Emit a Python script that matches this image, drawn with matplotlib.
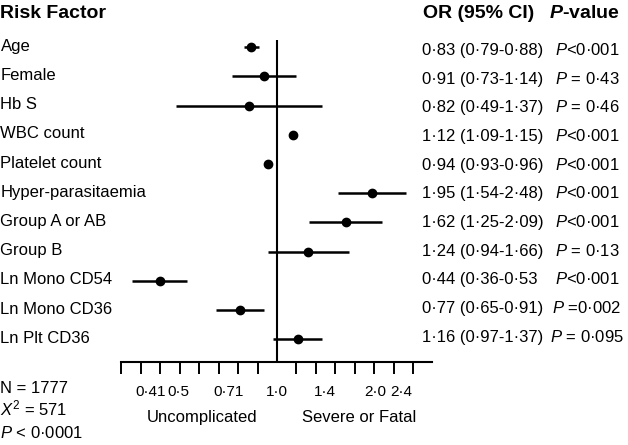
import numpy as np
import matplotlib
matplotlib.use('Agg')
import matplotlib.pyplot as plt
from matplotlib import transforms
from matplotlib.ticker import NullFormatter

plt.rcParams['font.family'] = ['Liberation Sans', 'DejaVu Sans']
plt.rcParams['mathtext.fontset'] = 'custom'
plt.rcParams['mathtext.rm'] = 'Liberation Sans'
plt.rcParams['mathtext.it'] = 'Liberation Sans:italic'
plt.rcParams['mathtext.bf'] = 'Liberation Sans:bold'
plt.rcParams['mathtext.bfit'] = 'Liberation Sans:bold:italic'

# ---------------- data ----------------
factors = ["Age", "Female", "Hb S", "WBC count", "Platelet count",
           "Hyper-parasitaemia", "Group A or AB", "Group B",
           "Ln Mono CD54", "Ln Mono CD36", "Ln Plt CD36"]
or_vals = [0.83, 0.91, 0.82, 1.12, 0.94, 1.95, 1.62, 1.24, 0.44, 0.77, 1.16]
ci_lo = [0.79, 0.73, 0.49, 1.09, 0.93, 1.54, 1.25, 0.94, 0.36, 0.65, 0.97]
ci_hi = [0.88, 1.14, 1.37, 1.15, 0.96, 2.48, 2.09, 1.66, 0.53, 0.91, 1.37]
or_labels = ["0·83 (0·79-0·88)", "0·91 (0·73-1·14)", "0·82 (0·49-1·37)",
             "1·12 (1·09-1·15)", "0·94 (0·93-0·96)", "1·95 (1·54-2·48)",
             "1·62 (1·25-2·09)", "1·24 (0·94-1·66)", "0·44 (0·36-0·53",
             "0·77 (0·65-0·91)", "1·16 (0·97-1·37)"]
p_labels = ["$P$<0·001", "$P$ = 0·43", "$P$ = 0·46", "$P$<0·001", "$P$<0·001",
            "$P$<0·001", "$P$<0·001", "$P$ = 0·13", "$P$<0·001", "$P$ =0·002",
            "$P$ = 0·095"]
tick_vals = [0.41, 0.5, 0.71, 1.0, 1.4, 2.0, 2.4]
tick_labels = ["0·41", "0·5", "0·71", "1·0", "1·4", "2·0", "2·4"]
stats_lines = ["N = 1777", "$X^2$ = 571", "$P$ < 0·0001"]

# ---------------- layout ----------------
W, H = 628, 445
fig = plt.figure(figsize=(W / 100, H / 100), dpi=100)


def fx(x):
    return x / W


def fy(y):
    return 1 - y / H


PXLN = 142.0          # pixels per natural-log unit
X1 = 277.0            # pixel of OR = 1
AX_L, AX_R = 121.3, 432.0
AX_T, AX_B = 40.0, 362.0
ROW0, ROWSTEP = 47.2, 29.2
TICKSTEP = 19.46 / PXLN

ax = fig.add_axes([fx(AX_L), fy(AX_B), (AX_R - AX_L) / W, (AX_B - AX_T) / H])
ax.set_xscale('log')
ax.set_xlim(np.exp((AX_L - X1) / PXLN), np.exp((AX_R - X1) / PXLN))
n = len(factors)
ax.set_ylim(n - 1 + (AX_B - (ROW0 + ROWSTEP * (n - 1))) / ROWSTEP,
            -(ROW0 - AX_T) / ROWSTEP)
rows = np.arange(n)

ax.hlines(rows, ci_lo, ci_hi, color='black', lw=1.8)
ax.plot(or_vals, rows, 'o', color='black', ms=6)
ax.axvline(1.0, color='black', lw=1.5)

for s in ['top', 'right', 'left']:
    ax.spines[s].set_visible(False)
ax.spines['bottom'].set_linewidth(1.5)
ax.set_yticks([])
minor = np.exp(np.arange(-8, 8) * TICKSTEP)
ax.set_xticks(minor, minor=True)
ax.xaxis.set_minor_formatter(NullFormatter())
ax.set_xticks(tick_vals, tick_labels)
ax.tick_params(axis='x', which='minor', length=8.6, width=1.4, direction='out')
ax.tick_params(axis='x', which='major', length=0, pad=16.5, labelsize=11)

# row labels (baseline slightly below the marker centre)
trans = transforms.blended_transform_factory(fig.transFigure, ax.transData)
for i in range(n):
    ax.text(fx(0.5), rows[i] + 3.5 / ROWSTEP, factors[i], transform=trans,
            va='baseline', ha='left', fontsize=12)

# right-hand columns
RB0, RBSTEP = 55.0, 28.67
for i in range(n):
    fig.text(fx(422), fy(RB0 + RBSTEP * i), or_labels[i], va='baseline',
             ha='left', fontsize=12)
    fig.text(fx(587), fy(RB0 + RBSTEP * i), p_labels[i], va='baseline',
             ha='center', fontsize=12)

fig.text(fx(0), fy(18.3), "Risk Factor", fontsize=14, fontweight='bold',
         va='baseline')
fig.text(fx(423), fy(18.3), "OR (95% CI)", fontsize=14, fontweight='bold',
         va='baseline')
fig.text(fx(584), fy(18.3), r"$\mathbfit{P}$-value", fontsize=14,
         fontweight='bold', va='baseline', ha='center')

for j, s in enumerate(stats_lines):
    fig.text(fx(0), fy(392.7 + 22.8 * j), s, fontsize=12, va='baseline')

fig.text(fx(202.5), fy(421.7), "Uncomplicated", fontsize=12, ha='center',
         va='baseline')
fig.text(fx(359), fy(421.7), "Severe or Fatal", fontsize=12, ha='center',
         va='baseline')

fig.savefig('out.png', dpi=100)
